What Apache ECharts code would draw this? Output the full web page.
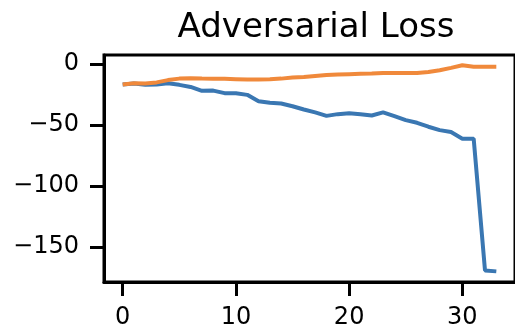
<!DOCTYPE html>
<html>
<head>
    <meta charset="UTF-8">
    <title>Adversarial Loss</title>
    <script src="https://cdn.jsdelivr.net/npm/echarts@6/dist/echarts.min.js"></script>
</head>
<body style="margin: 0;background: #fff;">
<div id="chart" style="width: 515px;height: 330px;"></div>
<script type="text/javascript">
    // epochs on the x axis
    var epochs = [0, 1, 2, 3, 4, 5, 6, 7, 8, 9, 10, 11, 12, 13, 14, 15, 16,
        17, 18, 19, 20, 21, 22, 23, 24, 25, 26, 27, 28, 29, 30, 31, 32, 33];
    // blue line
    var lossA = [-16.9, -16.0, -17.1, -16.9, -15.8, -17.1, -18.8, -22.0, -21.8, -23.9, -23.9, -25.3,
        -30.5, -31.8, -32.4, -34.6, -37.3, -39.7, -42.5, -41.1, -40.3, -41.1, -42.2, -39.7,
        -42.7, -46.0, -48.2, -51.4, -54.2, -55.8, -61.2, -61.2, -169.1, -169.9];
    // orange line
    var lossB = [-16.9, -15.8, -16.0, -15.1, -13.2, -12.0, -11.7, -12.0, -12.2, -12.2, -12.5, -12.8,
        -12.8, -12.5, -12.0, -11.1, -10.6, -9.8, -9.0, -8.7, -8.4, -8.1, -7.9, -7.3,
        -7.3, -7.3, -7.3, -6.5, -5.1, -3.2, -1.1, -2.2, -2.2, -2.2];
    var xTicks = [0, 10, 20, 30];
    var yTicks = [0, -50, -100, -150];

    function pairs(ys) {
        return ys.map(function (v, i) {
            return [epochs[i], v];
        });
    }

    var font = 'DejaVu Sans';
    var chart = echarts.init(document.getElementById('chart'), null, {renderer: 'canvas'});
    chart.setOption({
        animation: false,
        title: {
            text: 'Adversarial Loss',
            left: 311,
            top: 6,
            textAlign: 'center',
            textStyle: {fontFamily: font, fontSize: 34, fontWeight: 'normal', color: '#000'}
        },
        grid: {
            left: 104,
            top: 55,
            right: -1,
            bottom: 48,
            show: true,
            borderColor: '#000',
            borderWidth: 3
        },
        xAxis: {
            type: 'value',
            min: -1.65,
            max: 34.65,
            splitLine: {show: false},
            axisLine: {onZero: false, lineStyle: {color: '#000', width: 3}},
            axisTick: {customValues: xTicks, length: 14, lineStyle: {color: '#000', width: 3}},
            axisLabel: {
                customValues: xTicks,
                margin: 24,
                fontFamily: font,
                fontSize: 24,
                color: '#000'
            }
        },
        yAxis: {
            type: 'value',
            min: -178.6,
            max: 7.35,
            splitLine: {show: false},
            axisLine: {onZero: false, lineStyle: {color: '#000', width: 3}},
            axisTick: {customValues: yTicks, length: 14, lineStyle: {color: '#000', width: 3}},
            axisLabel: {
                customValues: yTicks,
                margin: 25,
                fontFamily: font,
                fontSize: 24,
                color: '#000',
                formatter: function (v) {
                    return v < 0 ? '\u2212' + Math.abs(v) : String(v);
                }
            }
        },
        series: [
            {
                type: 'line',
                data: pairs(lossA),
                showSymbol: false,
                lineStyle: {color: '#3a77b2', width: 4},
                itemStyle: {color: '#3a77b2'}
            },
            {
                type: 'line',
                data: pairs(lossB),
                showSymbol: false,
                lineStyle: {color: '#f0893b', width: 4},
                itemStyle: {color: '#f0893b'}
            }
        ]
    });
</script>
</body>
</html>
